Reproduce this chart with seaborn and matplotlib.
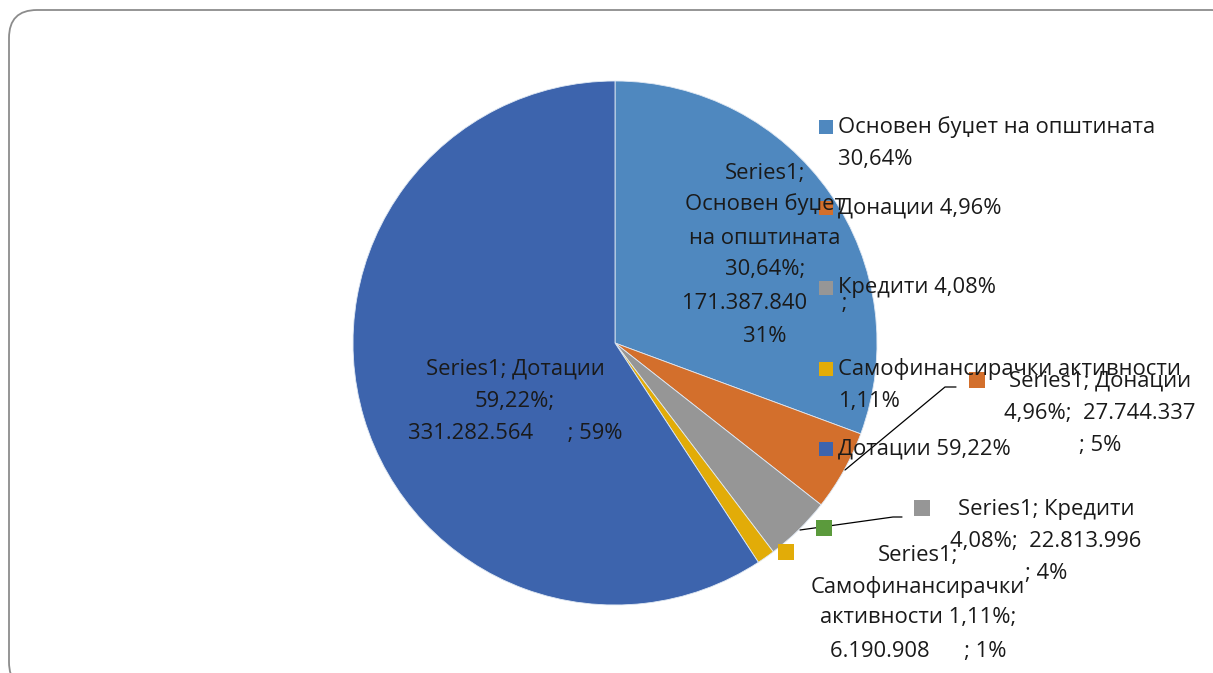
import numpy as np
import pandas as pd
import matplotlib
matplotlib.use("Agg")
import matplotlib.pyplot as plt
from matplotlib.patches import FancyBboxPatch
import seaborn as sns

# data
categories = ["Основен буџет на општината", "Донации", "Кредити",
              "Самофинансирачки активности", "Дотации"]
percents = [30.64, 4.96, 4.08, 1.11, 59.22]
amounts = ["171.387.840", "27.744.337", "22.813.996", "6.190.908", "331.282.564"]
rounded = ["31%", "5%", "4%", "1%", "59%"]
colors = ["#4F88BF", "#D36F2C", "#969696", "#E2AC08", "#3D64AD"]

sns.set_theme(style="white")
plt.rcParams['font.family'] = ['Open Sans', 'DejaVu Sans']

W, H = 1213, 673
fig = plt.figure(figsize=(W / 100, H / 100), dpi=100)
ax = fig.add_axes([0, 0, 1, 1])

def py(y):
    # pixel row -> axis y
    return H - y

# outer rounded frame
frame = FancyBboxPatch((9, py(690)), 1230, 680, boxstyle="round,pad=0,rounding_size=28",
                       fc="white", ec="#8c8c8c", lw=1.3, zorder=0)
ax.add_patch(frame)

df = pd.DataFrame({"cat": categories, "pct": percents})
ax.pie(df["pct"], colors=colors, startangle=90, counterclock=False,
       center=(615, py(343)), radius=262, frame=True,
       wedgeprops=dict(edgecolor="#dfe8f3", linewidth=0.6))
ax.set_xlim(0, W)
ax.set_ylim(0, H)
ax.axis("off")

fs = 15.8
def lbl(x, y, s, ha="center"):
    ax.text(x, py(y), s, ha=ha, va="center", fontsize=fs, color="#1a1a1a", zorder=7)

def fmt(p):
    return f"{p:.2f}".replace(".", ",") + "%"

# data labels
lbl(765, 173, "Series1;")
lbl(765, 204, "Основен буџет")
lbl(765, 238, "на општината")
lbl(765, 270, fmt(percents[0]) + ";")
lbl(765, 304, amounts[0] + "      ;")
lbl(765, 336, rounded[0])

lbl(515, 369, "Series1; " + categories[4])
lbl(515, 401, fmt(percents[4]) + ";")
lbl(515, 434, amounts[4] + "      ; " + rounded[4])

lbl(1100, 381, "Series1; " + categories[1])
lbl(1100, 414, fmt(percents[1]) + ";  " + amounts[1])
lbl(1100, 446, "; " + rounded[1])

lbl(1046, 509, "Series1; " + categories[2])
lbl(1046, 541, fmt(percents[2]) + ";  " + amounts[2])
lbl(1046, 573, "; " + rounded[2])

lbl(918, 555, "Series1;")
lbl(918, 587, "Самофинансирачки")
lbl(918, 618, "активности " + fmt(percents[3]) + ";")
lbl(918, 651, amounts[3] + "      ; " + rounded[3])

# leader lines
ax.plot([845, 945, 956], [py(470), py(387), py(387)], color="black", lw=0.9, zorder=4)
ax.plot([800, 893, 902], [py(530), py(517), py(517)], color="black", lw=0.9, zorder=4)

# label keys
ax.scatter([977, 922, 824, 786], [py(380), py(508), py(528), py(552)],
           marker="s", s=120, c=[colors[1], colors[2], "#5B9A3C", colors[3]],
           linewidths=0, zorder=6)

# legend
leg_y = [127, 208, 288, 369, 449]
leg_lines = [[categories[0], fmt(percents[0])],
             [categories[1] + " " + fmt(percents[1])],
             [categories[2] + " " + fmt(percents[2])],
             [categories[3], fmt(percents[3])],
             [categories[4] + " " + fmt(percents[4])]]
ax.scatter([826] * 5, [py(y) for y in leg_y], marker="s", s=110, c=colors,
           linewidths=0, zorder=6)
for y, lines in zip(leg_y, leg_lines):
    for k, t in enumerate(lines):
        lbl(838, y + 33 * k, t, ha="left")

fig.savefig("out.png", dpi=100)
